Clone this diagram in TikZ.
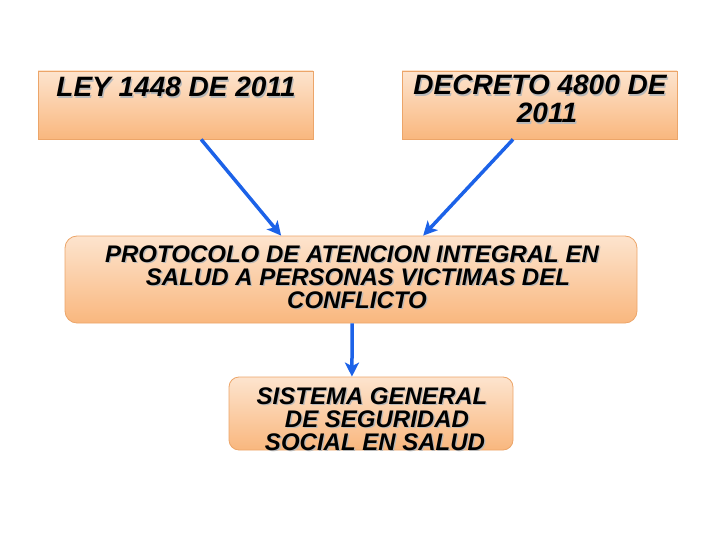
\documentclass[tikz,border=0pt]{standalone}
\usepackage{fontspec}
\setmainfont{Liberation Sans}
\usetikzlibrary{arrows.meta,calc}
\definecolor{boxtop}{RGB}{253,228,206}
\definecolor{boxbot}{RGB}{249,183,126}
\definecolor{boxedge}{RGB}{236,165,105}
\definecolor{arrblue}{RGB}{28,98,232}
\definecolor{shadowgray}{RGB}{185,185,185}
\tikzset{
  box/.style={draw=boxedge, line width=0.8pt, top color=boxtop, bottom color=boxbot, inner sep=0pt},
  txtA/.style={font=\fontsize{28}{28}\selectfont\bfseries\itshape, inner sep=0pt, anchor=base, text height=0.72em, text depth=0pt},
  txtB/.style={font=\fontsize{24}{24}\selectfont\bfseries\itshape, inner sep=0pt, anchor=base, text height=0.72em, text depth=0pt},
  arr/.style={draw=arrblue, line width=3.5pt, -{Stealth[length=14pt,width=14pt,inset=3.5pt]}}
}
\newcommand\shtxt[1]{\makebox[0pt][l]{\hspace{1.3pt}\raisebox{-1.3pt}{\textcolor{shadowgray}{#1}}}#1}
\newcommand\shline[5]{\node[#1] (#2) at (#3,#4) {\shtxt{#5}};}
\begin{document}
\begin{tikzpicture}[x=1pt,y=-1pt]
\useasboundingbox (0,0) rectangle (720,540);
% boxes
\node[box, minimum width=275pt, minimum height=68pt] (ley) at (175.5,105) {};
\node[box, minimum width=275pt, minimum height=68pt] (dec) at (539.5,105) {};
\node[box, rounded corners=12pt, minimum width=572pt, minimum height=87pt] (pro) at (351,279.5) {};
\node[box, rounded corners=10pt, minimum width=284pt, minimum height=73pt] (sis) at (371,413.5) {};
% texts
\shline{txtA}{leyt}{176}{97}{LEY 1448 DE 2011}
\shline{txtA}{dect1}{540}{95}{DECRETO 4800 DE}
\shline{txtA}{dect2}{547}{123}{2011}
\shline{txtB}{prot1}{352}{262}{PROTOCOLO DE ATENCION INTEGRAL EN}
\shline{txtB}{prot2}{358}{285}{SALUD A PERSONAS VICTIMAS DEL}
\shline{txtB}{prot3}{357}{308}{CONFLICTO}
\shline{txtB}{sist1}{372}{404}{SISTEMA GENERAL}
\shline{txtB}{sist2}{377}{427}{DE SEGURIDAD}
\shline{txtB}{sist3}{375}{450}{SOCIAL EN SALUD}
% connectors
\coordinate (a1s) at ($(ley.south west)!0.593!(ley.south east)$);
\coordinate (a1e) at ($(pro.north west)!0.378!(pro.north east)$);
\coordinate (a2s) at ($(dec.south west)!0.404!(dec.south east)$);
\coordinate (a2e) at ($(pro.north west)!0.626!(pro.north east)$);
\coordinate (a3s) at ($(pro.south west)!0.502!(pro.south east)$);
\coordinate (a3e) at ($(sis.north west)!0.433!(sis.north east)$);
\draw[arr] (a1s) -- (a1e);
\draw[arr] (a2s) -- (a2e);
\draw[arr] (a3s) -- (a3e);
\end{tikzpicture}
\end{document}
